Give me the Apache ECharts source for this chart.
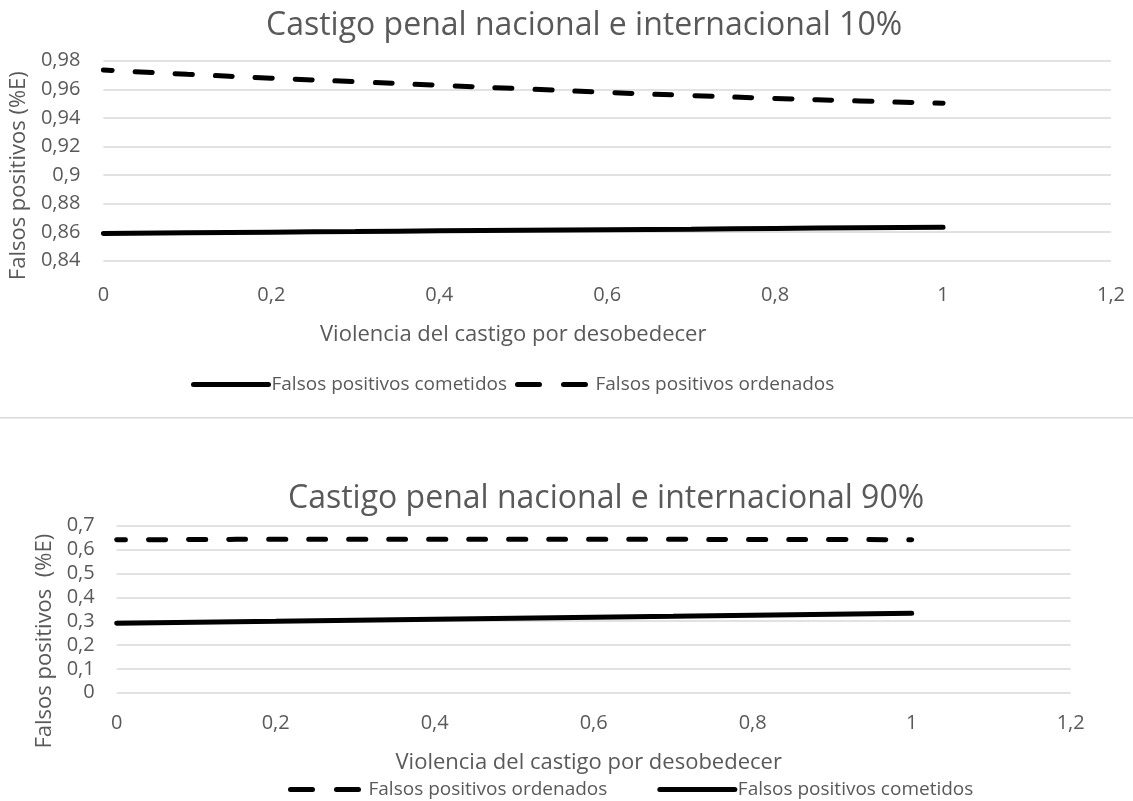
<!DOCTYPE html>
<html>
<head>
<meta charset="utf-8">
<script src="https://cdn.jsdelivr.net/npm/echarts@6/dist/echarts.min.js"></script>
<style>
html,body{margin:0;padding:0;background:#fff;}
#c{width:1133px;height:801px;}
</style>
</head>
<body>
<div id="c"></div>
<script>
// ---- data ----
const xValues = [0, 0.1, 0.2, 0.3, 0.4, 0.5, 0.6, 0.7, 0.8, 0.9, 1.0];
const top10Cometidos = [0.8590, 0.8595, 0.8600, 0.8604, 0.8609, 0.8613, 0.8617, 0.8621, 0.8626, 0.8630, 0.8634];
const top10Ordenados = [0.9735, 0.9705, 0.9678, 0.9653, 0.9628, 0.9603, 0.9578, 0.9556, 0.9536, 0.9518, 0.9502];
const bot90Ordenados = [0.641, 0.642, 0.643, 0.643, 0.643, 0.643, 0.643, 0.643, 0.642, 0.642, 0.641];
const bot90Cometidos = [0.291, 0.295, 0.299, 0.304, 0.308, 0.312, 0.316, 0.320, 0.325, 0.329, 0.333];
const titles = ['Castigo penal nacional e internacional 10%', 'Castigo penal nacional e internacional 90%'];
const xName = 'Violencia del castigo por desobedecer';
const yNames = ['Falsos positivos (%E)', 'Falsos positivos  (%E)'];
const nameCometidos = 'Falsos positivos cometidos';
const nameOrdenados = 'Falsos positivos ordenados';

const pair = (xs, ys) => xs.map((x, i) => [x, ys[i]]);
const fmt = v => parseFloat(v.toFixed(2)).toString().replace('.', ',');

const FONT = '"Open Sans", "Noto Sans", sans-serif';
const GREY = '#595959';
const GRID = '#d9d9d9';

const solidStyle = { color: '#000', width: 5, type: 'solid', cap: 'round' };
const dashStyle = { color: '#000', width: 5, type: [17, 23], dashOffset: 8, cap: 'round' };

function xAxisCfg(gridIndex, margin, nameGap, namePad) {
  return {
    type: 'value', gridIndex: gridIndex, min: 0, max: 1.2, interval: 0.2,
    axisLine: { show: false }, axisTick: { show: false }, splitLine: { show: false },
    axisLabel: { color: GREY, fontFamily: FONT, fontSize: 20, margin: margin, formatter: fmt },
    name: xName, nameLocation: 'middle', nameGap: nameGap,
    nameTextStyle: { color: GREY, fontFamily: FONT, fontSize: 22, padding: namePad }
  };
}
function yAxisCfg(gridIndex, min, max, interval, name, margin, nameGap, namePad) {
  return {
    type: 'value', gridIndex: gridIndex, min: min, max: max, interval: interval,
    axisLine: { show: false }, axisTick: { show: false },
    splitLine: { show: true, lineStyle: { color: GRID, width: 1.5 } },
    axisLabel: { color: GREY, fontFamily: FONT, fontSize: 20, margin: margin, formatter: fmt },
    name: name, nameLocation: 'middle', nameGap: nameGap,
    nameTextStyle: { color: GREY, fontFamily: FONT, fontSize: 22, padding: namePad }
  };
}

const legendCommon = {
  itemWidth: 75, itemHeight: 14,
  itemStyle: { color: 'rgba(0,0,0,0)', borderColor: 'rgba(0,0,0,0)', borderWidth: 0 },
  lineStyle: { width: 5, cap: 'round' },
  textStyle: { color: GREY, fontFamily: FONT, fontSize: 19, padding: [0, 0, 0, -2] }
};
const legCometidos = { name: nameCometidos };
const legOrdenados = { name: nameOrdenados, lineStyle: { type: [22, 24], dashOffset: 0, width: 5, cap: 'round', color: '#000' } };

const chart = echarts.init(document.getElementById('c'), null, { renderer: 'canvas' });
chart.setOption({
  animation: false,
  backgroundColor: '#fff',
  title: [
    { text: titles[0], left: 266, top: 10, padding: 0, textStyle: { color: GREY, fontFamily: FONT, fontSize: 32, fontWeight: 'normal' } },
    { text: titles[1], left: 288, top: 483, padding: 0, textStyle: { color: GREY, fontFamily: FONT, fontSize: 32, fontWeight: 'normal' } }
  ],
  graphic: [
    { type: 'rect', shape: { x: 0, y: 417, width: 1133, height: 1.5 }, style: { fill: GRID }, silent: true }
  ],
  legend: [
    Object.assign({ data: [legCometidos, legOrdenados], left: 186, top: 370, itemGap: 8 }, legendCommon),
    Object.assign({ data: [legOrdenados, legCometidos], left: 283, top: 775, itemGap: 50 }, legendCommon)
  ],
  grid: [
    { left: 103, right: 22, top: 60.7, height: 200 },
    { left: 116.7, right: 62.3, top: 525.7, height: 167 }
  ],
  xAxis: [
    xAxisCfg(0, 25, 63, [0, 188, 0, 0]),
    xAxisCfg(1, 21, 59, [0, 10, 0, 0])
  ],
  yAxis: [
    yAxisCfg(0, 0.84, 0.98, 0.02, yNames[0], 23, 69, [0, 30, 0, 0]),
    yAxisCfg(1, 0, 0.7, 0.1, yNames[1], 22, 57, [0, 64, 0, 0])
  ],
  series: [
    { name: nameCometidos, type: 'line', xAxisIndex: 0, yAxisIndex: 0, symbol: 'none', smooth: true, lineStyle: solidStyle, itemStyle: { color: '#000' }, data: pair(xValues, top10Cometidos) },
    { name: nameOrdenados, type: 'line', xAxisIndex: 0, yAxisIndex: 0, symbol: 'none', smooth: true, lineStyle: dashStyle, itemStyle: { color: '#000' }, data: pair(xValues, top10Ordenados) },
    { name: nameOrdenados, type: 'line', xAxisIndex: 1, yAxisIndex: 1, symbol: 'none', smooth: true, lineStyle: dashStyle, itemStyle: { color: '#000' }, data: pair(xValues, bot90Ordenados) },
    { name: nameCometidos, type: 'line', xAxisIndex: 1, yAxisIndex: 1, symbol: 'none', smooth: true, lineStyle: solidStyle, itemStyle: { color: '#000' }, data: pair(xValues, bot90Cometidos) }
  ]
});
</script>
</body>
</html>
